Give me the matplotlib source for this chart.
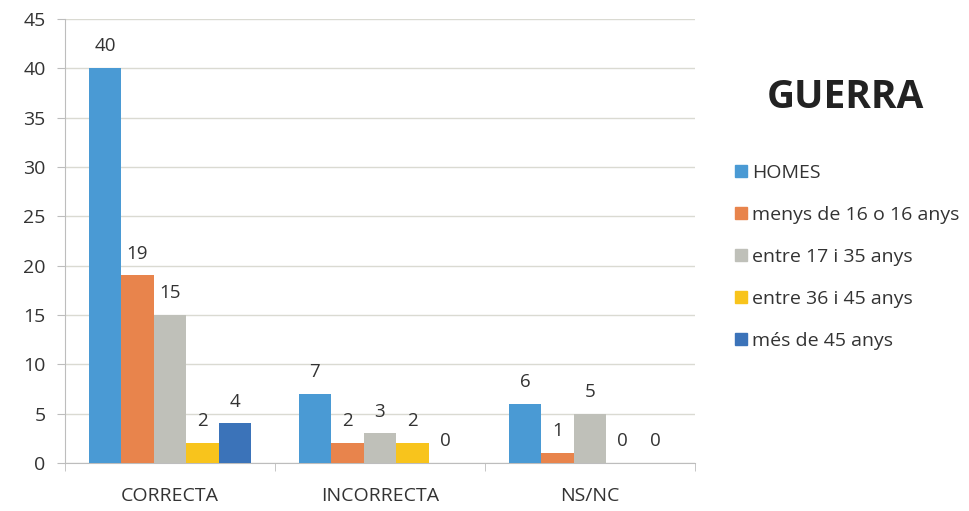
import numpy as np
import matplotlib
matplotlib.use('Agg')
import matplotlib.pyplot as plt
from matplotlib.patches import Patch

plt.rcParams['font.family'] = ['Open Sans', 'DejaVu Sans']

categories = ['CORRECTA', 'INCORRECTA', 'NS/NC']
series_names = ['HOMES', 'menys de 16 o 16 anys', 'entre 17 i 35 anys',
                'entre 36 i 45 anys', 'més de 45 anys']
homes = [40, 7, 6]
menys16 = [19, 2, 1]
entre17_35 = [15, 3, 5]
entre36_45 = [2, 2, 0]
mes45 = [4, 0, 0]
values = [homes, menys16, entre17_35, entre36_45, mes45]
colors = ['#4A9AD4', '#E8844C', '#BFC0B9', '#F8C41C', '#3B73B9']

fig = plt.figure(figsize=(9.7, 5.11), dpi=100)
ax = fig.add_axes([0.067, 0.094, 0.6495, 0.869])

x = np.arange(len(categories))
w = 0.155
for i, (vals, c) in enumerate(zip(values, colors)):
    pos = x + (i - 2) * w
    ax.bar(pos, vals, width=w, color=c, zorder=3)
    for p, v in zip(pos, vals):
        ax.text(p, v + 1.3, str(v), ha='center', va='bottom', fontsize=13.5, color='#333333')

ax.set_ylim(0, 45)
ax.set_xlim(-0.5, 2.5)
ax.set_yticks(range(0, 46, 5))
ax.set_xticks(x)
ax.set_xticklabels(categories)
ax.set_xticks([-0.5, 0.5, 1.5, 2.5], minor=True)
ax.grid(axis='y', color='#DADAD2', linewidth=1, zorder=0)
for s in ['top', 'right']:
    ax.spines[s].set_visible(False)
for s in ['left', 'bottom']:
    ax.spines[s].set_color('#BDBDBD')
ax.tick_params(axis='y', length=6, color='#BDBDBD', labelsize=14, labelcolor='#333333', pad=8)
ax.tick_params(axis='x', which='major', length=0, labelsize=14, labelcolor='#333333', pad=17)
ax.tick_params(axis='x', which='minor', length=6, color='#BDBDBD')

fig.text(0.872, 0.81, 'GUERRA', ha='center', va='center', fontsize=28, fontweight='bold', color='#222222')

handles = [Patch(color=c) for c in colors]
fig.legend(handles, series_names, loc='upper left', bbox_to_anchor=(0.74, 0.713),
           frameon=False, fontsize=14, handlelength=0.6, handleheight=0.6,
           handletextpad=0.25, labelspacing=1.23, labelcolor='#333333')

fig.savefig('out.png', dpi=100)
